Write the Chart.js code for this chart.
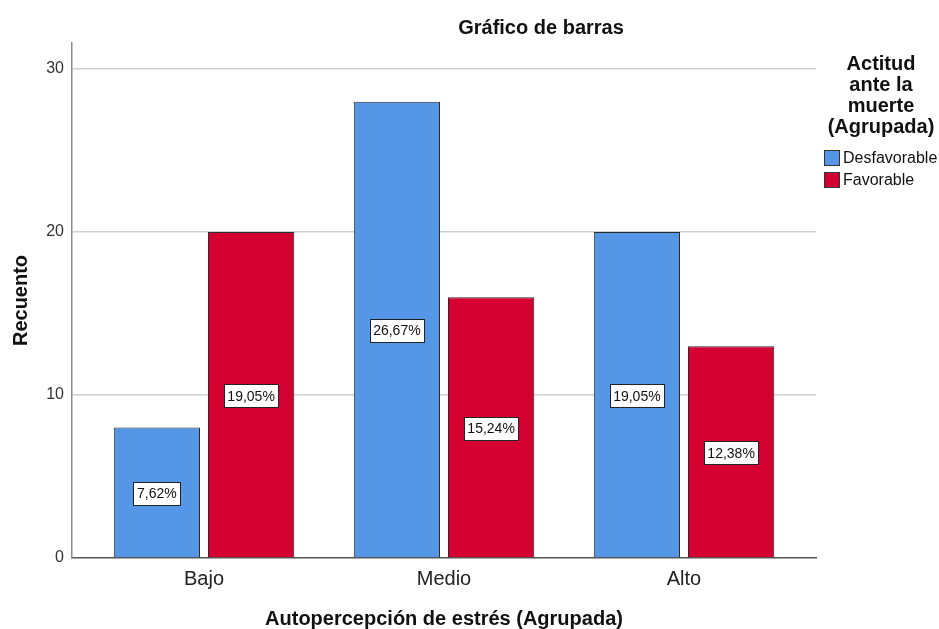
<!DOCTYPE html>
<html>
<head>
<meta charset="utf-8">
<script src="https://cdn.jsdelivr.net/npm/chart.js@4/dist/chart.umd.min.js"></script>
<style>
  html, body { margin: 0; padding: 0; background: #ffffff; }
  #wrap { width: 939px; height: 629px; position: relative; }
</style>
</head>
<body>
<div id="wrap"><canvas id="chart" width="939" height="629"></canvas></div>
<script>
// Categorías del eje X y recuentos por grupo
const categories = ['Bajo', 'Medio', 'Alto'];
const desfavorable = [8, 28, 20];
const favorable = [20, 16, 13];
const pctDesfavorable = ['7,62%', '26,67%', '19,05%'];
const pctFavorable = ['19,05%', '15,24%', '12,38%'];
const yTicks = [0, 10, 20, 30];

const seriesNames = ['Desfavorable', 'Favorable'];
const seriesColors = ['#5596e6', '#d50032'];
const FONT = '"Liberation Sans", Arial, sans-serif';

const toPoints = arr => arr.map((v, i) => ({ x: i, y: v }));

// Etiquetas de porcentaje en cajas blancas, centradas en cada barra
const pctLabels = {
  id: 'pctLabels',
  afterDatasetsDraw(chart) {
    const ctx = chart.ctx;
    const labels = [pctDesfavorable, pctFavorable];
    ctx.save();
    ctx.font = '14px ' + FONT;
    ctx.textAlign = 'center';
    ctx.textBaseline = 'middle';
    chart.data.datasets.forEach((ds, di) => {
      const meta = chart.getDatasetMeta(di);
      meta.data.forEach((bar, i) => {
        const txt = labels[di][i];
        const cx = bar.x;
        const cy = (bar.y + bar.base) / 2 + 1;
        const w = Math.round(ctx.measureText(txt).width + 7);
        const h = 23;
        const bx = Math.round(cx - w / 2) + 0.5;
        const by = Math.round(cy - h / 2) + 0.5;
        ctx.fillStyle = '#ffffff';
        ctx.fillRect(bx, by, w, h);
        ctx.strokeStyle = '#222222';
        ctx.lineWidth = 1;
        ctx.strokeRect(bx, by, w, h);
        ctx.fillStyle = '#111111';
        ctx.fillText(txt, cx, cy + 1);
      });
    });
    ctx.restore();
  }
};

// Título del gráfico y leyenda a la derecha
const titleAndLegend = {
  id: 'titleAndLegend',
  afterDraw(chart) {
    const ctx = chart.ctx;
    ctx.save();
    ctx.fillStyle = '#111111';
    ctx.textAlign = 'center';
    ctx.textBaseline = 'middle';
    ctx.font = 'bold 20px ' + FONT;
    ctx.fillText('Gráfico de barras', 541, 28);

    const lines = ['Actitud', 'ante la', 'muerte', '(Agrupada)'];
    lines.forEach((l, i) => ctx.fillText(l, 881, 64 + i * 21));

    ctx.textAlign = 'left';
    ctx.font = '16px ' + FONT;
    seriesNames.forEach((n, i) => {
      const y = 151 + i * 22;
      ctx.fillStyle = seriesColors[i];
      ctx.fillRect(825, y, 14, 14);
      ctx.strokeStyle = '#333333';
      ctx.lineWidth = 1;
      ctx.strokeRect(824.5, y - 0.5, 15, 15);
      ctx.fillStyle = '#111111';
      ctx.fillText(n, 843, y + 8);
    });
    ctx.restore();
  }
};

new Chart(document.getElementById('chart'), {
  type: 'bar',
  data: {
    datasets: [
      {
        label: seriesNames[0],
        data: toPoints(desfavorable),
        backgroundColor: seriesColors[0],
        borderColor: '#2b2b2b',
        borderWidth: 1,
        categoryPercentage: 0.785,
        barPercentage: 0.915
      },
      {
        label: seriesNames[1],
        data: toPoints(favorable),
        backgroundColor: seriesColors[1],
        borderColor: '#2b2b2b',
        borderWidth: 1,
        categoryPercentage: 0.785,
        barPercentage: 0.915
      }
    ]
  },
  options: {
    responsive: false,
    animation: false,
    layout: { padding: { left: 0, top: 43, right: 123, bottom: 0 } },
    plugins: {
      legend: { display: false },
      title: { display: false },
      tooltip: { enabled: false }
    },
    scales: {
      x: {
        type: 'linear',
        offset: false,
        min: -0.55,
        max: 2.55,
        afterBuildTicks: s => { s.ticks = categories.map((c, i) => ({ value: i })); },
        afterFit: s => { s.height = 71; },
        ticks: {
          callback: v => categories[v],
          font: { family: FONT, size: 20 },
          color: '#222222',
          padding: 9,
          maxRotation: 0
        },
        grid: { display: false, drawTicks: false, offset: false },
        border: { display: true, color: '#555555', width: 1.5 },
        title: {
          display: true,
          text: 'Autopercepción de estrés (Agrupada)',
          font: { family: FONT, size: 20, weight: 'bold', lineHeight: 1 },
          color: '#111111',
          padding: { top: 0, bottom: 0 }
        }
      },
      y: {
        min: 0,
        max: 31.6,
        afterBuildTicks: s => { s.ticks = yTicks.map(v => ({ value: v })); },
        afterFit: s => { s.width = 72; },
        ticks: {
          font: { family: FONT, size: 16 },
          color: '#333333',
          padding: 8
        },
        grid: {
          drawTicks: false,
          color: ctx => (ctx.tick && ctx.tick.value === 0) ? 'rgba(0,0,0,0)' : '#cfcfcf',
          lineWidth: 1.5
        },
        border: { display: true, color: '#8a8a8a', width: 1.5 },
        title: {
          display: true,
          text: 'Recuento',
          font: { family: FONT, size: 20, weight: 'bold', lineHeight: 1 },
          color: '#111111',
          padding: { top: 11, bottom: 0 }
        }
      }
    }
  },
  plugins: [pctLabels, titleAndLegend]
});
</script>
</body>
</html>
